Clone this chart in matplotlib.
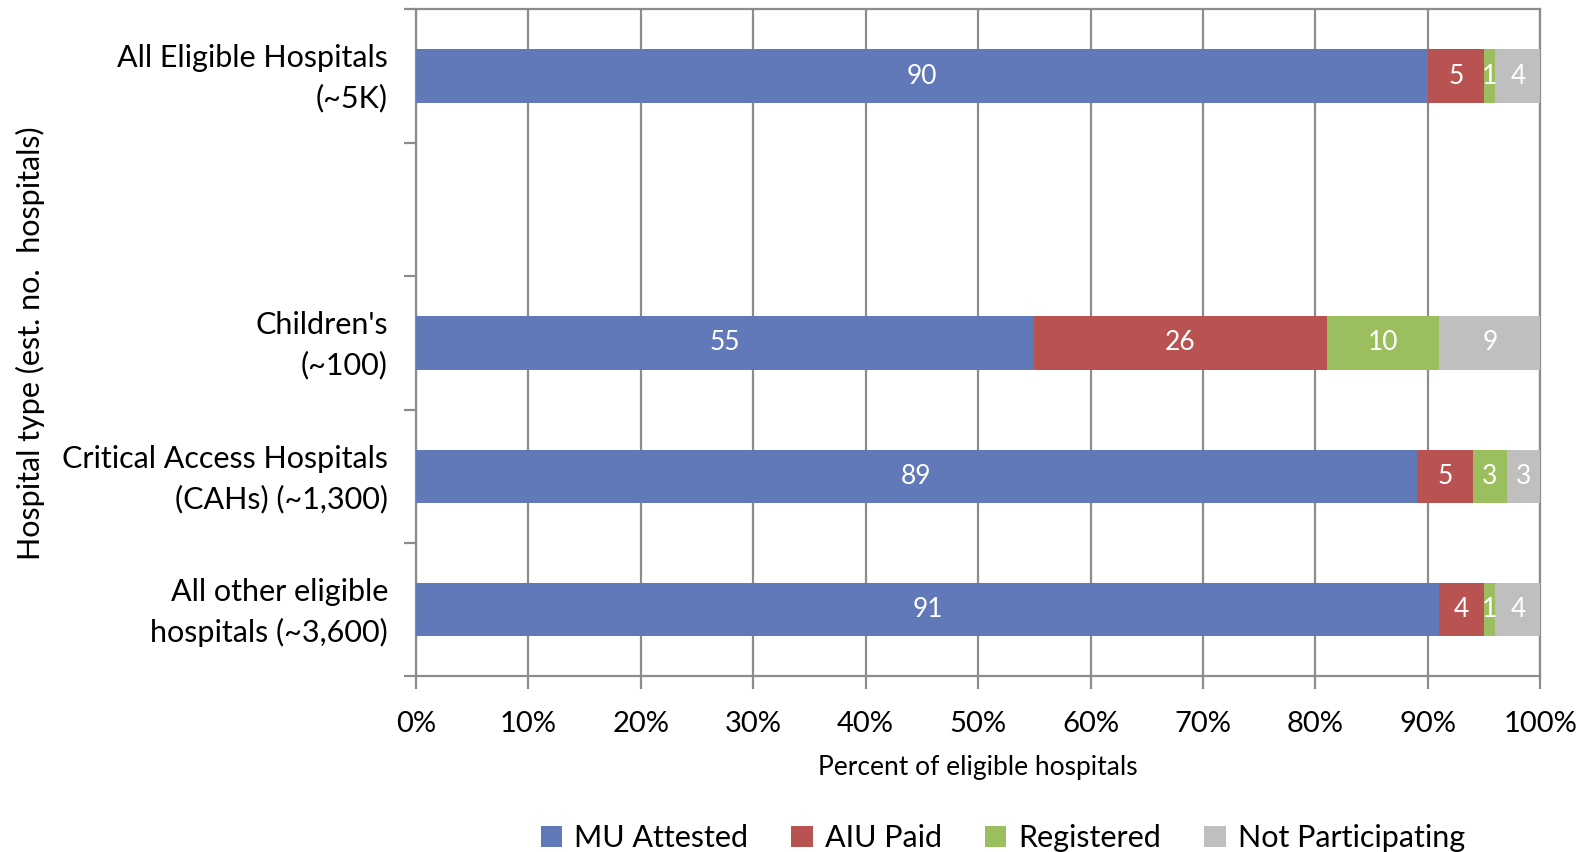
import matplotlib
matplotlib.use("Agg")
import matplotlib.pyplot as plt
import matplotlib.transforms as mtransforms
import numpy as np

plt.rcParams["font.family"] = ["Lato", "DejaVu Sans"]

# categories, top to bottom ("" is the empty slot in the original chart)
categories = ["All Eligible Hospitals\n(~5K)", "", "Children's\n(~100)",
              "Critical Access Hospitals\n(CAHs) (~1,300)",
              "All other eligible\nhospitals (~3,600)"]
series_names = ["MU Attested", "AIU Paid", "Registered", "Not Participating"]
mu_attested = [90, None, 55, 89, 91]
aiu_paid = [5, None, 26, 5, 4]
registered = [1, None, 10, 3, 1]
not_participating = [4, None, 9, 3, 4]
colors = ["#6179B8", "#B85352", "#9BBE5E", "#BFBFBF"]
xticks = list(range(0, 101, 10))

GRID = "#8C8C8C"

fig = plt.figure(figsize=(15.93, 8.52), dpi=100)
ax = fig.add_axes([0.261, 0.206, 0.706, 0.783])

y = np.arange(len(categories))
left = np.zeros(len(categories))
for name, vals, col in zip(series_names,
                           [mu_attested, aiu_paid, registered, not_participating],
                           colors):
    v = np.array([0 if x is None else x for x in vals], dtype=float)
    bars = ax.barh(y, v, left=left, height=0.40, color=col, label=name, zorder=3)
    for b, raw in zip(bars, vals):
        if raw is None:
            continue
        ax.text(b.get_x() + b.get_width() / 2, b.get_y() + b.get_height() / 2,
                str(raw), ha="center", va="center", color="white",
                fontsize=19, zorder=4)
    left += v

ax.set_xlim(0, 100)
ax.set_ylim(len(categories) - 0.5, -0.5)
ax.set_xticks(xticks)
ax.set_xticklabels([f"{t}%" for t in xticks], fontsize=21)
ax.xaxis.grid(True, color=GRID, linewidth=1.6, zorder=0)

# category labels at slot centers, tick marks at slot boundaries
ax.set_yticks(y)
ax.set_yticklabels(categories, fontsize=22, linespacing=1.5)
ax.tick_params(axis="y", length=0, pad=20)
ax.set_yticks(np.arange(-0.5, len(categories)), minor=True)
ax.tick_params(axis="y", which="minor", length=9, width=1.6, color=GRID)
ax.tick_params(axis="x", length=9, width=1.6, color=GRID, pad=16)

# nudge the two-line category labels up a little
shift = mtransforms.ScaledTranslation(0, 6 / 100, fig.dpi_scale_trans)
for lbl in ax.get_yticklabels():
    lbl.set_transform(lbl.get_transform() + shift)

for s in ax.spines.values():
    s.set_color(GRID)
    s.set_linewidth(1.6)

ax.set_xlabel("Percent of eligible hospitals", fontsize=19, labelpad=13)
ax.set_ylabel("Hospital type (est. no.  hospitals)", fontsize=22)
ax.yaxis.set_label_coords(-0.33, 0.5)

ax.legend(loc="upper center", bbox_to_anchor=(0.522, -0.18), ncol=4,
          frameon=False, fontsize=22, handlelength=0.7, handleheight=0.7,
          handletextpad=0.4, columnspacing=1.4)

fig.savefig("out.png", dpi=100)
